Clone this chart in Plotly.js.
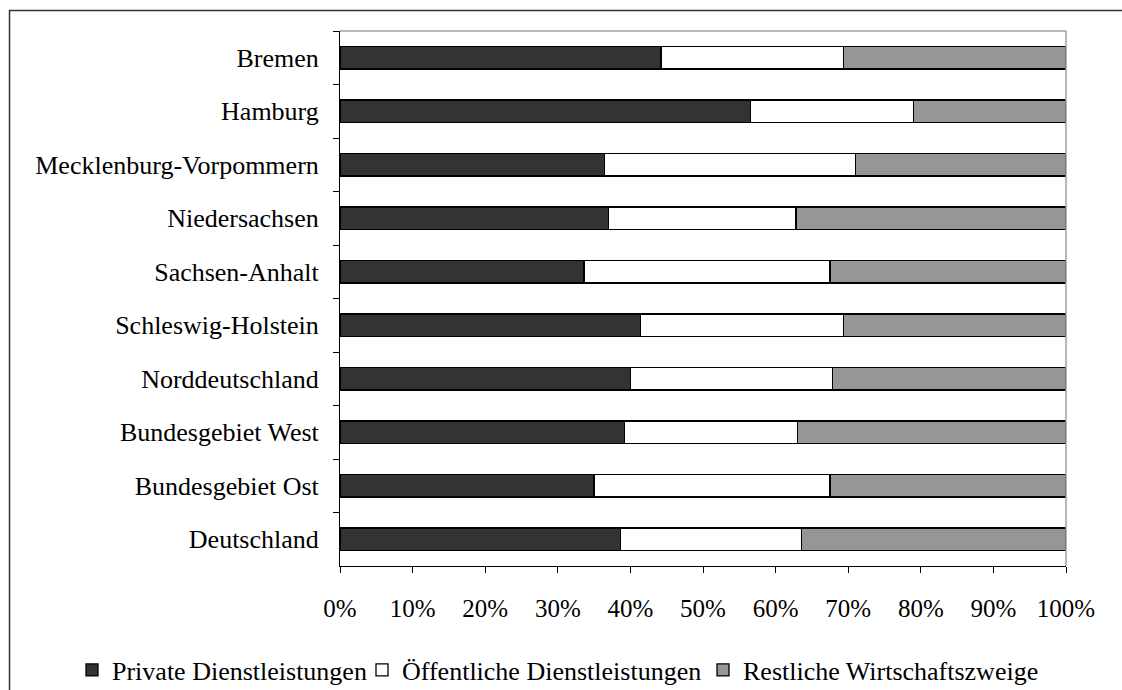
<!DOCTYPE html>
<html>
<head>
<meta charset="utf-8">
<script src="https://cdn.plot.ly/plotly-3.0.1.min.js"></script>
<style>
  html, body { margin: 0; padding: 0; background: #ffffff; }
  #chart { width: 1122px; height: 690px; }
</style>
</head>
<body>
<div id="chart"></div>
<script>
const categories = [
  "Bremen", "Hamburg", "Mecklenburg-Vorpommern", "Niedersachsen",
  "Sachsen-Anhalt", "Schleswig-Holstein", "Norddeutschland",
  "Bundesgebiet West", "Bundesgebiet Ost", "Deutschland"
];
const seriesNames = ["Private Dienstleistungen", "Öffentliche Dienstleistungen", "Restliche Wirtschaftszweige"];
const privateDL    = [44.2, 56.5, 36.4, 37.0, 33.6, 41.4, 40.0, 39.2, 35.0, 38.6];
const oeffentlichDL = [25.2, 22.5, 34.6, 25.8, 33.9, 28.0, 27.8, 23.8, 32.5, 25.0];
const restlicheWZ  = [30.6, 21.0, 29.0, 37.2, 32.5, 30.6, 32.2, 37.0, 32.5, 36.4];
const xTickVals = [0, 10, 20, 30, 40, 50, 60, 70, 80, 90, 100];

const colors = ["#333333", "#ffffff", "#969696"];
const seriesValues = [privateDL, oeffentlichDL, restlicheWZ];
const legendIds = ["legend", "legend2", "legend3"];

const FONT = "Liberation Serif";

const traces = seriesValues.map((vals, i) => ({
  type: "bar",
  orientation: "h",
  name: seriesNames[i],
  legend: legendIds[i],
  y: categories,
  x: vals,
  width: 0.42,
  marker: { color: colors[i], line: { color: "#000000", width: 1.3 } },
  hoverinfo: "x+y+name"
}));

function legendAt(xc) {
  return {
    orientation: "h",
    xref: "container",
    yref: "container",
    x: xc, xanchor: "left",
    y: 0.029, yanchor: "middle",
    font: { family: FONT, size: 26, color: "#000000" },
    itemwidth: 30,
    bgcolor: "rgba(0,0,0,0)",
    borderwidth: 0
  };
}

const layout = {
  width: 1122,
  height: 690,
  barmode: "stack",
  paper_bgcolor: "#ffffff",
  plot_bgcolor: "#ffffff",
  margin: { l: 340, r: 56, t: 31, b: 124, pad: 0, autoexpand: false },
  font: { family: FONT, size: 25, color: "#000000" },
  showlegend: true,
  legend: legendAt(72 / 1122),
  legend2: legendAt(362 / 1122),
  legend3: legendAt(703 / 1122),
  xaxis: {
    range: [0, 100],
    tickvals: xTickVals,
    ticktext: xTickVals.map(v => v + "%"),
    ticks: "outside",
    ticklen: 6,
    tickcolor: "#000000",
    tickwidth: 1,
    showline: true,
    linecolor: "#000000",
    linewidth: 1,
    showgrid: false,
    zeroline: false,
    ticklabelstandoff: 14,
    tickfont: { family: FONT, size: 25, color: "#000000" },
    fixedrange: true
  },
  yaxis: {
    type: "category",
    autorange: "reversed",
    tickson: "boundaries",
    ticks: "outside",
    ticklen: 6,
    tickcolor: "#000000",
    tickwidth: 1,
    showline: true,
    linecolor: "#000000",
    linewidth: 1,
    showgrid: false,
    zeroline: false,
    ticklabelstandoff: 15,
    tickfont: { family: FONT, size: 26, color: "#000000" },
    fixedrange: true
  },
  shapes: [
    { type: "line", xref: "paper", yref: "paper", x0: 0, x1: 1, y0: 1, y1: 1,
      line: { color: "#a0a0a0", width: 1.5 }, layer: "above" },
    { type: "line", xref: "paper", yref: "paper", x0: 1, x1: 1, y0: 0, y1: 1,
      line: { color: "#a0a0a0", width: 1.5 }, layer: "above" },
    { type: "rect", xref: "paper", yref: "paper",
      x0: -0.4552, x1: 1.2, y0: -0.4, y1: 1.0383,
      line: { color: "#333333", width: 1.5 }, fillcolor: "rgba(0,0,0,0)", layer: "below" }
  ]
};

Plotly.newPlot("chart", traces, layout, { displayModeBar: false, staticPlot: true });
</script>
</body>
</html>
